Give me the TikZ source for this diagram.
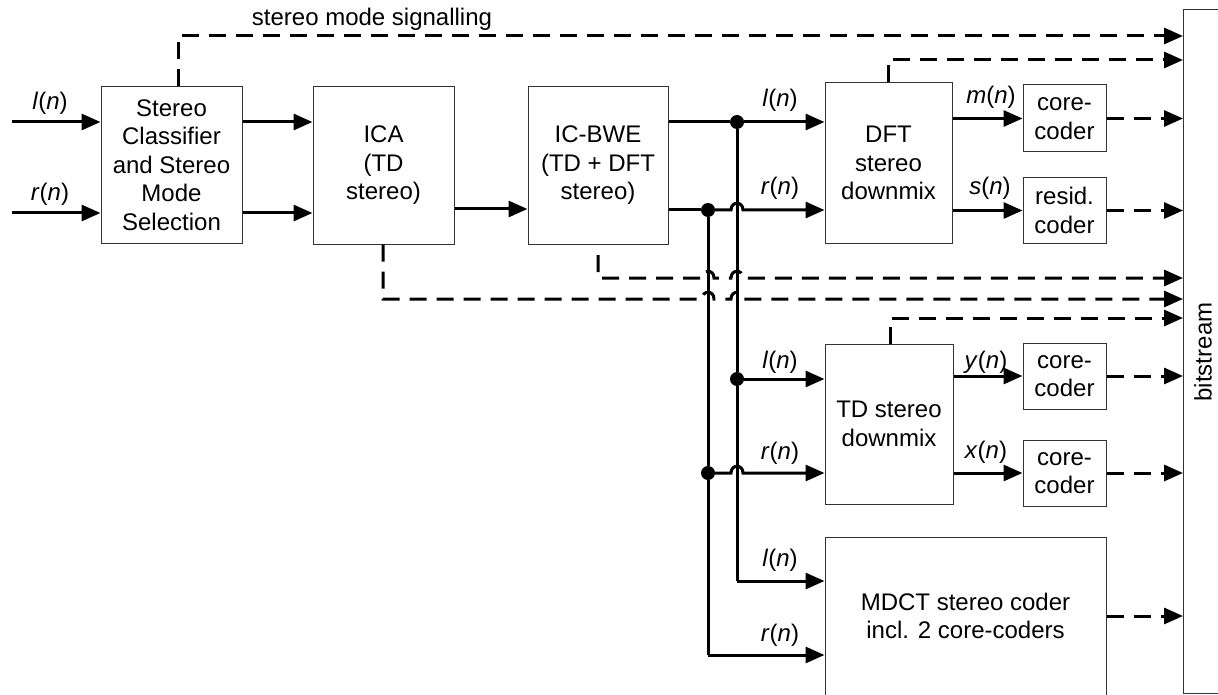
\documentclass[tikz,border=0pt]{standalone}
\usepackage{fontspec}
\setmainfont{Liberation Sans}
\usetikzlibrary{arrows.meta,calc}
\begin{document}
\begin{tikzpicture}[x=1pt,y=-1pt,
  every node/.style={font=\fontsize{24}{28.5}\selectfont},
  box/.style={draw=black!80, line width=1pt, inner sep=0pt, align=center},
  sig/.style={line width=3pt, -{Triangle[length=19pt,width=16pt]}},
  wire/.style={line width=3pt},
  dsig/.style={line width=3pt, dash pattern=on 17pt off 10pt, -{Triangle[length=19pt,width=16pt]}},
  lab/.style={inner sep=0pt},
  dot/.style={circle, fill=black, inner sep=0pt, minimum size=14pt}]
\path[use as bounding box] (0,0) rectangle (1218,695);

% boxes
\node[box, minimum width=141pt, minimum height=156pt] (cls) at (171.5,165) {Stereo\\Classifier\\and Stereo\\Mode\\Selection};
\node[box, minimum width=141pt, minimum height=157pt] (ica) at (383.5,165.5) {ICA\\(TD\\stereo)};
\node[box, minimum width=140pt, minimum height=157pt] (bwe) at (598,165.5) {IC-BWE\\(TD + DFT\\stereo)};
\node[box, minimum width=127pt, minimum height=160pt] (dft) at (888.5,163) {DFT\\stereo\\downmix};
\node[box, minimum width=83pt, minimum height=67pt] (cc1) at (1064.5,118.5) {core-\\coder};
\node[box, minimum width=83pt, minimum height=66pt] (res) at (1064.5,210.5) {resid.\\coder};
\node[box, minimum width=128pt, minimum height=160pt] (td) at (889,424) {TD stereo\\downmix};
\node[box, minimum width=83pt, minimum height=66pt] (cc2) at (1064.5,376) {core-\\coder};
\node[box, minimum width=83pt, minimum height=66pt] (cc3) at (1064.5,473) {core-\\coder};
\node[box, minimum width=281pt, minimum height=190pt, anchor=north] (mdct) at (965.5,537) {};
\node (mdcttxt) at (965.5,616) [align=center] {MDCT stereo coder\\incl. 2 core-coders};
\node[box, minimum width=60pt, minimum height=684pt, anchor=north west] (bs) at (1183,9) {};
\node[rotate=90] (bstxt) at (1203,352) {bitstream};

% level coordinates
\coordinate (yA) at (0,122);
\coordinate (yB) at (0,213);
\coordinate (yC) at (0,209);
\coordinate (yD) at (0,210);
\coordinate (lin) at (12,122);
\coordinate (rin) at (12,213);

% inputs
\draw[sig] (lin) -- (cls.west |- yA);
\draw[sig] (rin) -- (cls.west |- yB);
\node[lab] (ln0) at (50,103) {\textit{l}(\textit{n})};
\node[lab] (rn0) at (50,194) {\textit{r}(\textit{n})};

\draw[sig] (cls.east |- yA) -- (ica.west |- yA);
\draw[sig] (cls.east |- yB) -- (ica.west |- yB);
\draw[sig] (ica.east |- yC) -- (bwe.west |- yC);

% junctions
\coordinate (jl) at (737,122);
\coordinate (jr) at (708,210);
\node[dot] (dl) at (jl) {};
\node[dot] (dr) at (jr) {};
\coordinate (jl2) at (737,379);
\coordinate (jr2) at (708,473);
\node[dot] (dl2) at (jl2) {};
\node[dot] (dr2) at (jr2) {};

% DFT inputs
\draw[wire] (bwe.east |- yA) -- (dl);
\draw[sig] (dl) -- (dft.west |- yA);
\draw[wire] (bwe.east |- yD) -- (dr);
\draw[sig] (dr) -- (731,210) .. controls (731,201) and (743,201) .. (743,210) -- (dft.west |- yD);
\node[lab] (ln1) at (780,100) {\textit{l}(\textit{n})};
\node[lab] (rn1) at (780,188) {\textit{r}(\textit{n})};

% vertical buses
\draw[wire] (dl) -- (dl2);
\draw[wire] (dl2) -- (737,581) coordinate (cml);
\draw[sig] (cml) -- (mdct.west |- cml);
\draw[wire] (dr) -- (dr2);
\draw[wire] (dr2) -- (708,655) coordinate (cmr);
\draw[sig] (cmr) -- (mdct.west |- cmr);

% TD inputs
\draw[sig] (dl2) -- (td.west |- jl2);
\draw[sig] (dr2) -- (731,473) .. controls (731,464) and (743,464) .. (743,473) -- (td.west |- jr2);
\node[lab] (ln2) at (780,362) {\textit{l}(\textit{n})};
\node[lab] (rn2) at (780,453) {\textit{r}(\textit{n})};
\node[lab] (ln3) at (780,560) {\textit{l}(\textit{n})};
\node[lab] (rn3) at (780,635) {\textit{r}(\textit{n})};

% downmix outputs
\draw[sig] (dft.east |- cc1) -- (cc1.west);
\draw[sig] (dft.east |- res) -- (res.west);
\draw[sig] (td.east |- cc2) -- (cc2.west);
\draw[sig] (td.east |- cc3) -- (cc3.west);
\node[lab] (mn) at (991,97) {\textit{m}(\textit{n})};
\node[lab] (sn) at (990,188) {\textit{s}(\textit{n})};
\node[lab] (yn) at (986,362) {\textit{y}(\textit{n})};
\node[lab] (xn) at (986,452) {\textit{x}(\textit{n})};

% coder outputs to bitstream
\draw[dsig] (cc1.east) -- (bs.west |- cc1);
\draw[dsig] (res.east) -- (bs.west |- res);
\draw[dsig] (cc2.east) -- (bs.west |- cc2);
\draw[dsig] (cc3.east) -- (bs.west |- cc3);
\draw[dsig] (mdct.east |- mdcttxt) -- (bs.west |- mdcttxt);

% signalling lines
\coordinate (sc) at (178,36);
\draw[dsig] (cls.north -| sc) -- (sc) -- (bs.west |- sc);
\node[lab] (sig) at (372,19) {stereo mode signalling};
\coordinate (sd) at (888,60);
\draw[dsig] (dft.north -| sd) -- (sd) -- (bs.west |- sd);
\coordinate (st) at (890,318);
\draw[dsig] (td.north -| st) -- (st) -- (bs.west |- st);
\draw[dsig] (598,255) -- (598,278) -- (702,278) .. controls (702,269) and (714,269) .. (714,278)
  -- (731,278) .. controls (731,269) and (743,269) .. (743,278) -- (bs.west |- 0,278);
\coordinate (si) at (383,299);
\draw[dsig] (ica.south -| si) -- (si) -- (702,299) .. controls (702,290) and (714,290) .. (714,299)
  -- (731,299) .. controls (731,290) and (743,290) .. (743,299) -- (bs.west |- si);
\end{tikzpicture}
\end{document}
